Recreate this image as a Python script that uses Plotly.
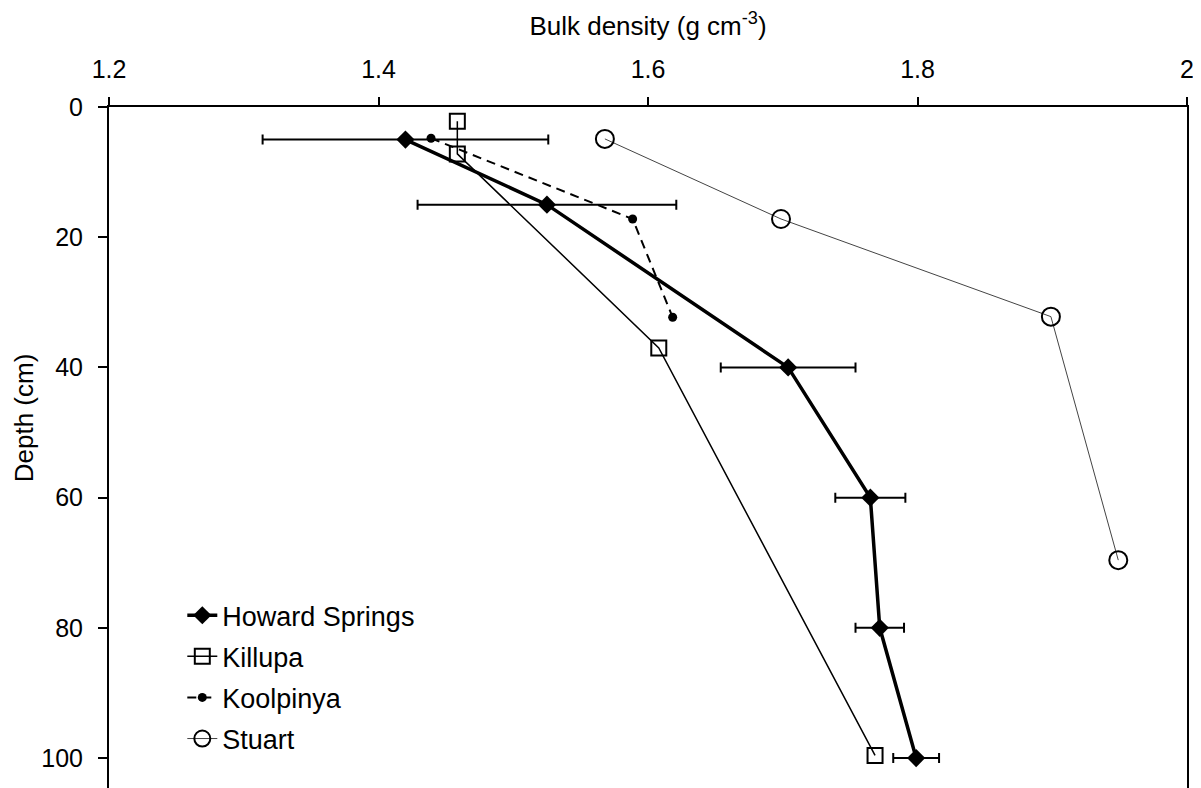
import plotly.graph_objects as go

# Howard Springs
hs_bd = [1.42, 1.525, 1.704, 1.765, 1.772, 1.799]
hs_depth = [5, 15, 40, 60, 80, 100]
hs_err = [0.106, 0.096, 0.05, 0.026, 0.018, 0.017]

# Killupa
ki_bd = [1.4585, 1.4585, 1.608, 1.7685]
ki_depth = [2.2, 7.2, 37, 99.6]

# Koolpinya
ko_bd = [1.439, 1.5886, 1.6183]
ko_depth = [4.8, 17.2, 32.3]

# Stuart
st_bd = [1.568, 1.6987, 1.899, 1.949]
st_depth = [4.9, 17.2, 32.2, 69.6]

x_ticks = [1.2, 1.4, 1.6, 1.8, 2.0]
x_ticklabels = ["1.2", "1.4", "1.6", "1.8", "2"]
y_ticks = [0, 20, 40, 60, 80, 100]

FONT = "Liberation Sans, Arial, sans-serif"

fig = go.Figure()

fig.add_trace(go.Scatter(
    x=hs_bd, y=hs_depth, name="Howard Springs", mode="lines+markers",
    line=dict(color="black", width=3.5),
    marker=dict(symbol="diamond", size=14, color="black"),
    error_x=dict(type="data", array=hs_err, visible=True, color="black", thickness=2, width=5),
    legendgroup="a",
))
fig.add_trace(go.Scatter(
    x=ki_bd, y=ki_depth, name="Killupa", mode="lines+markers",
    line=dict(color="black", width=1.5),
    marker=dict(symbol="square-open", size=15, color="black", line=dict(width=2)),
    legendgroup="b",
))
fig.add_trace(go.Scatter(
    x=ko_bd, y=ko_depth, name="Koolpinya", mode="lines+markers",
    line=dict(color="black", width=2, dash="9px,6px"),
    marker=dict(symbol="circle", size=9, color="black"),
    legendgroup="c",
))
fig.add_trace(go.Scatter(
    x=st_bd, y=st_depth, name="Stuart", mode="lines+markers",
    line=dict(color="#444444", width=1),
    marker=dict(symbol="circle-open", size=18, color="black", line=dict(width=2)),
    legendgroup="d",
))

fig.update_layout(
    width=1193, height=780,
    margin=dict(l=101, r=14, t=99, b=0),
    paper_bgcolor="white", plot_bgcolor="white",
    font=dict(family=FONT, size=22, color="black"),
    showlegend=True,
    legend=dict(
        x=0.068, y=0.289, xanchor="left", yanchor="top",
        bgcolor="rgba(0,0,0,0)", font=dict(family=FONT, size=27, color="black"),
        tracegroupgap=3, itemwidth=30,
    ),
    xaxis=dict(
        side="top", range=[1.2, 2.0], tickvals=x_ticks, ticktext=x_ticklabels,
        showline=True, linecolor="black", linewidth=2,
        ticks="outside", ticklen=8, tickwidth=2, tickcolor="black",
        showgrid=False, zeroline=False, ticklabelstandoff=9,
        tickfont=dict(family=FONT, size=25, color="black"),
        title=dict(text="Bulk density (g cm<sup>-3</sup>)", standoff=14),
    ),
    yaxis=dict(
        range=[104.6, 0], tickvals=y_ticks,
        showline=True, linecolor="black", linewidth=2, mirror=True,
        ticks="outside", ticklen=9, tickwidth=2, tickcolor="black",
        showgrid=False, zeroline=False, ticklabelstandoff=10,
        tickfont=dict(family=FONT, size=25, color="black"),
    ),
    annotations=[dict(
        text="Depth (cm)", textangle=-90, showarrow=False,
        xref="paper", yref="paper", x=-0.0788, y=0.543,
        xanchor="center", yanchor="middle",
        font=dict(family=FONT, size=26, color="black"),
    )],
)

fig.write_html("out.html")
